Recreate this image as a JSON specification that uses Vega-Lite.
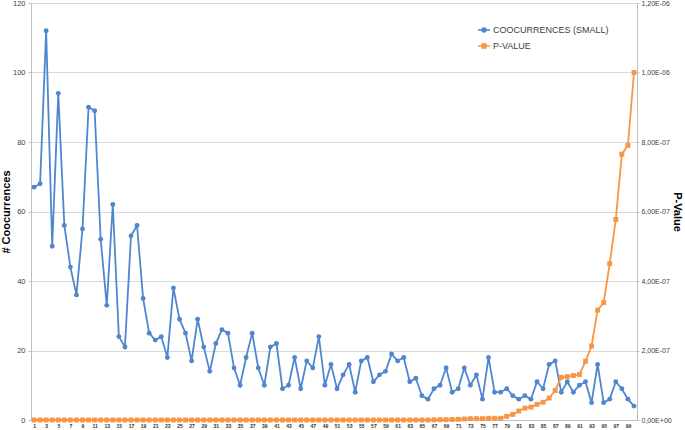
{
  "$schema": "https://vega.github.io/schema/vega-lite/v6.json",
  "width": 606,
  "height": 417,
  "autosize": "none",
  "padding": {"left": 31, "top": 3, "right": 48, "bottom": 10},
  "background": "white",
  "config": {"view": {"stroke": null}, "font": "Liberation Sans"},
  "data": {"values": [
    {"i":1,"c":67,"p":0},{"i":2,"c":68,"p":0},{"i":3,"c":112,"p":0},{"i":4,"c":50,"p":0},{"i":5,"c":94,"p":0},
    {"i":6,"c":56,"p":0},{"i":7,"c":44,"p":0},{"i":8,"c":36,"p":0},{"i":9,"c":55,"p":0},{"i":10,"c":90,"p":0},
    {"i":11,"c":89,"p":0},{"i":12,"c":52,"p":0},{"i":13,"c":33,"p":0},{"i":14,"c":62,"p":0},{"i":15,"c":24,"p":0},
    {"i":16,"c":21,"p":0},{"i":17,"c":53,"p":0},{"i":18,"c":56,"p":0},{"i":19,"c":35,"p":0},{"i":20,"c":25,"p":0},
    {"i":21,"c":23,"p":0},{"i":22,"c":24,"p":0},{"i":23,"c":18,"p":0},{"i":24,"c":38,"p":0},{"i":25,"c":29,"p":0},
    {"i":26,"c":25,"p":0},{"i":27,"c":17,"p":0},{"i":28,"c":29,"p":0},{"i":29,"c":21,"p":0},{"i":30,"c":14,"p":0},
    {"i":31,"c":22,"p":0},{"i":32,"c":26,"p":0},{"i":33,"c":25,"p":0},{"i":34,"c":15,"p":0},{"i":35,"c":10,"p":0},
    {"i":36,"c":18,"p":0},{"i":37,"c":25,"p":0},{"i":38,"c":15,"p":0},{"i":39,"c":10,"p":0},{"i":40,"c":21,"p":0},
    {"i":41,"c":22,"p":0},{"i":42,"c":9,"p":0},{"i":43,"c":10,"p":0},{"i":44,"c":18,"p":0},{"i":45,"c":9,"p":0},
    {"i":46,"c":17,"p":0},{"i":47,"c":15,"p":0},{"i":48,"c":24,"p":0},{"i":49,"c":10,"p":0},{"i":50,"c":16,"p":0},
    {"i":51,"c":9,"p":0},{"i":52,"c":13,"p":0},{"i":53,"c":16,"p":0},{"i":54,"c":8,"p":0},{"i":55,"c":17,"p":0},
    {"i":56,"c":18,"p":0},{"i":57,"c":11,"p":0},{"i":58,"c":13,"p":0},{"i":59,"c":14,"p":0},{"i":60,"c":19,"p":0},
    {"i":61,"c":17,"p":0},{"i":62,"c":18,"p":0},{"i":63,"c":11,"p":0},{"i":64,"c":12,"p":0},{"i":65,"c":7,"p":0},
    {"i":66,"c":6,"p":0},{"i":67,"c":9,"p":5e-10},{"i":68,"c":10,"p":1e-9},{"i":69,"c":15,"p":1e-9},{"i":70,"c":8,"p":1.5e-9},
    {"i":71,"c":9,"p":2e-9},{"i":72,"c":15,"p":3e-9},{"i":73,"c":10,"p":4e-9},{"i":74,"c":13,"p":4e-9},{"i":75,"c":6,"p":4e-9},
    {"i":76,"c":18,"p":5e-9},{"i":77,"c":8,"p":5e-9},{"i":78,"c":8,"p":5e-9},{"i":79,"c":9,"p":1.06e-8},{"i":80,"c":7,"p":1.6e-8},
    {"i":81,"c":6,"p":2.6e-8},{"i":82,"c":7,"p":3.4e-8},{"i":83,"c":6,"p":3.7e-8},{"i":84,"c":11,"p":4.5e-8},{"i":85,"c":9,"p":5.1e-8},
    {"i":86,"c":16,"p":6.3e-8},{"i":87,"c":17,"p":8.5e-8},{"i":88,"c":8,"p":1.23e-7},{"i":89,"c":11,"p":1.25e-7},{"i":90,"c":8,"p":1.28e-7},
    {"i":91,"c":10,"p":1.31e-7},{"i":92,"c":11,"p":1.69e-7},{"i":93,"c":5,"p":2.13e-7},{"i":94,"c":16,"p":3.16e-7},{"i":95,"c":5,"p":3.38e-7},
    {"i":96,"c":6,"p":4.5e-7},{"i":97,"c":11,"p":5.77e-7},{"i":98,"c":9,"p":7.65e-7},{"i":99,"c":6,"p":7.9e-7},{"i":100,"c":4,"p":1e-6}
  ]},
  "encoding": {
    "x": {
      "field": "i", "type": "quantitative",
      "scale": {"domain": [0.5, 100.5], "nice": false, "zero": false},
      "axis": {
        "title": null, "grid": false, "ticks": false,
        "values": [1,3,5,7,9,11,13,15,17,19,21,23,25,27,29,31,33,35,37,39,41,43,45,47,49,51,53,55,57,59,61,63,65,67,69,71,73,75,77,79,81,83,85,87,89,91,93,95,97,99],
        "labelFontSize": 5, "labelFontWeight": "bold", "labelColor": "#333333",
        "labelPadding": 3, "labelOverlap": false, "labelFlush": false,
        "domainColor": "#bfbfbf", "domainWidth": 1
      }
    }
  },
  "layer": [
    {
      "encoding": {
        "y": {
          "field": "c", "type": "quantitative",
          "scale": {"domain": [0, 120], "nice": false},
          "axis": {
            "title": "# Coocurrences", "titleFontSize": 11, "titleFontWeight": "bold", "titleColor": "#000000", "titlePadding": 1,
            "values": [0,20,40,60,80,100,120],
            "labelFontSize": 7.5, "labelColor": "#404040", "labelPadding": 3,
            "grid": true, "gridColor": "#d9d9d9", "gridWidth": 1,
            "domainColor": "#bfbfbf", "tickColor": "#bfbfbf", "tickSize": 3
          }
        }
      },
      "layer": [
        {
          "mark": {"type": "line", "strokeWidth": 1.8},
          "encoding": {
            "color": {
              "datum": "COOCURRENCES (SMALL)",
              "scale": {"range": ["#4f86d0"]},
              "legend": {
                "orient": "none", "legendX": 446, "legendY": 20, "title": null, "padding": 0,
                "labelFontSize": 9, "labelColor": "#404040", "labelOffset": 2,
                "symbolType": "M-1,0H1M0.33,0A0.33,0.33 0 1,1 -0.33,0A0.33,0.33 0 1,1 0.33,0",
                "symbolSize": 144, "symbolStrokeWidth": 1.5, "symbolStrokeColor": "#4f86d0", "symbolFillColor": "#4f86d0"
              }
            }
          }
        },
        {"mark": {"type": "point", "shape": "circle", "filled": true, "size": 24, "opacity": 1, "color": "#4f86d0"}}
      ]
    },
    {
      "encoding": {
        "y": {
          "field": "p", "type": "quantitative",
          "scale": {"domain": [0, 1.2e-6], "nice": false},
          "axis": {
            "orient": "right",
            "title": "P-Value", "titleFontSize": 11, "titleFontWeight": "bold", "titleColor": "#000000", "titlePadding": 0,
            "values": [0, 2e-7, 4e-7, 6e-7, 8e-7, 1e-6, 1.2e-6],
            "labelExpr": "['0,00E+00','2,00E-07','4,00E-07','6,00E-07','8,00E-07','1,00E-06','1,20E-06'][round(datum.value/2e-7)]",
            "labelFontSize": 7, "labelColor": "#404040", "labelPadding": 2,
            "grid": false,
            "domainColor": "#bfbfbf", "tickColor": "#bfbfbf", "tickSize": 2
          }
        }
      },
      "layer": [
        {
          "mark": {"type": "line", "strokeWidth": 1.8},
          "encoding": {
            "stroke": {
              "datum": "P-VALUE",
              "scale": {"range": ["#f79646"]},
              "legend": {
                "orient": "none", "legendX": 446, "legendY": 36, "title": null, "padding": 0,
                "labelFontSize": 9, "labelColor": "#404040", "labelOffset": 2,
                "symbolType": "M-1,0H1M-0.33,-0.33H0.33V0.33H-0.33Z",
                "symbolSize": 144, "symbolStrokeWidth": 1.5, "symbolStrokeColor": "#f79646", "symbolFillColor": "#f79646"
              }
            }
          }
        },
        {"mark": {"type": "point", "shape": "square", "filled": true, "size": 24, "opacity": 1, "color": "#f79646"}}
      ]
    }
  ],
  "resolve": {"scale": {"y": "independent"}}
}
